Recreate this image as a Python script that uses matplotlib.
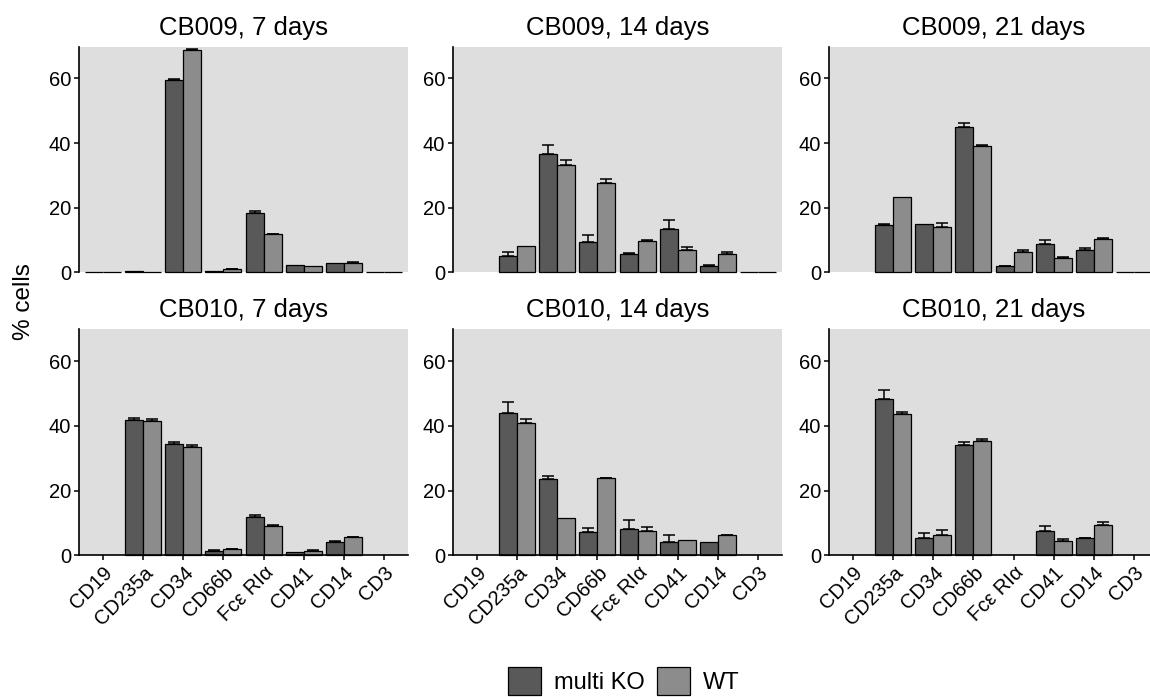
import numpy as np
import matplotlib
matplotlib.use("Agg")
import matplotlib.pyplot as plt
from matplotlib.patches import Patch

plt.rcParams["font.family"] = ["Liberation Sans", "DejaVu Sans"]

# =====================
# DATA (% cells, mean and SE)
# =====================
markers = ["CD19", "CD235a", "CD34", "CD66b", "Fcε RIα", "CD41", "CD14", "CD3"]
groups = ["multi KO", "WT"]
nan = np.nan

titles = ["CB009, 7 days", "CB009, 14 days", "CB009, 21 days",
          "CB010, 7 days", "CB010, 14 days", "CB010, 21 days"]

cb009_d7_ko = [0.15, 0.4, 59.5, 0.4, 18.45, 2.4, 2.9, 0.2]
cb009_d7_ko_se = [0, 0, 0.3, 0, 0.5, 0, 0, 0]
cb009_d7_wt = [0.1, 0.1, 68.8, 0.9, 11.75, 1.85, 2.9, 0.1]
cb009_d7_wt_se = [0, 0, 0.2, 0.2, 0.25, 0, 0.4, 0]

cb009_d14_ko = [nan, 5.05, 36.7, 9.5, 5.7, 13.5, 1.85, 0.1]
cb009_d14_ko_se = [0, 1.15, 2.7, 1.9, 0.4, 2.6, 0.35, 0]
cb009_d14_wt = [nan, 8.25, 33.3, 27.6, 9.8, 6.9, 5.7, 0.05]
cb009_d14_wt_se = [0, 0, 1.5, 1.4, 0.2, 0.9, 0.5, 0]

cb009_d21_ko = [nan, 14.5, 15.05, 45.05, 1.85, 8.65, 6.8, 0.1]
cb009_d21_ko_se = [0, 0.55, 0, 1.15, 0.2, 1.25, 0.8, 0]
cb009_d21_wt = [nan, 23.2, 14.1, 39.2, 6.2, 4.35, 10.4, 0.05]
cb009_d21_wt_se = [0, 0, 1.05, 0.2, 0.6, 0.5, 0.2, 0]

cb010_d7_ko = [nan, 41.85, 34.3, 1.35, 11.75, 0.95, 4.0, nan]
cb010_d7_ko_se = [0, 0.65, 0.55, 0.2, 0.75, 0, 0.55, 0]
cb010_d7_wt = [nan, 41.55, 33.5, 1.85, 9.2, 1.35, 5.55, nan]
cb010_d7_wt_se = [0, 0.65, 0.7, 0.1, 0.2, 0.2, 0.15, 0]

cb010_d14_ko = [nan, 43.8, 23.5, 7.2, 8.05, 4.1, 4.0, nan]
cb010_d14_ko_se = [0, 3.4, 1.0, 1.25, 2.95, 2.3, 0, 0]
cb010_d14_wt = [nan, 40.8, 11.55, 23.9, 7.5, 4.85, 6.2, nan]
cb010_d14_wt_se = [0, 1.4, 0, 0.1, 1.25, 0, 0.2, 0]

cb010_d21_ko = [nan, 48.35, 5.25, 34.0, nan, 7.5, 5.25, nan]
cb010_d21_ko_se = [0, 2.55, 1.65, 0.85, 0, 1.7, 0.1, 0]
cb010_d21_wt = [nan, 43.7, 6.4, 35.45, nan, 4.55, 9.5, nan]
cb010_d21_wt_se = [0, 0.5, 1.4, 0.35, 0, 0.4, 0.9, 0]

panels = [
    (cb009_d7_ko, cb009_d7_ko_se, cb009_d7_wt, cb009_d7_wt_se),
    (cb009_d14_ko, cb009_d14_ko_se, cb009_d14_wt, cb009_d14_wt_se),
    (cb009_d21_ko, cb009_d21_ko_se, cb009_d21_wt, cb009_d21_wt_se),
    (cb010_d7_ko, cb010_d7_ko_se, cb010_d7_wt, cb010_d7_wt_se),
    (cb010_d14_ko, cb010_d14_ko_se, cb010_d14_wt, cb010_d14_wt_se),
    (cb010_d21_ko, cb010_d21_ko_se, cb010_d21_wt, cb010_d21_wt_se),
]

# =====================
# STYLE
# =====================
KO_COLOR = "#595959"
WT_COLOR = "#8c8c8c"
BG = "#dedede"
BAR_W = 0.45

W, H = 1150, 697
fig = plt.figure(figsize=(W / 100, H / 100), dpi=100)

lefts = [79, 453, 829]
panel_w = 329
row_top = [46.7, 329.3]
row_bot = [272.3, 555.3]

x = np.arange(1, len(markers) + 1)


def draw_bars(ax, xs, vals, errs, color):
    for xi, v, e in zip(xs, vals, errs):
        if np.isnan(v):
            continue
        ax.bar(xi, v, width=BAR_W, color=color, edgecolor="black",
               linewidth=0.9, zorder=2, clip_on=False)
        if e > 0:
            ax.errorbar(xi, v, yerr=[[0], [e]], fmt="none", ecolor="black",
                        elinewidth=1.1, capsize=4.3, capthick=1.1, zorder=3)


for i, (ko, ko_se, wt, wt_se) in enumerate(panels):
    row, col = divmod(i, 3)
    ax = fig.add_axes([lefts[col] / W, 1 - row_bot[row] / H,
                       panel_w / W, (row_bot[row] - row_top[row]) / H])
    ax.set_facecolor(BG)

    draw_bars(ax, x - BAR_W / 2, ko, ko_se, KO_COLOR)
    draw_bars(ax, x + BAR_W / 2, wt, wt_se, WT_COLOR)

    ax.set_xlim(0.4, len(markers) + 0.6)
    ax.set_ylim(0, 69.8)
    ax.set_yticks([0, 20, 40, 60])
    ax.set_title(titles[i], fontsize=18.5, pad=8.5)

    for s in ["top", "right"]:
        ax.spines[s].set_visible(False)
    ax.spines["left"].set_linewidth(1.2)
    ax.tick_params(axis="y", labelsize=14.5, length=3.5, width=1.1,
                   colors="black", pad=2)

    if row == 0:
        ax.spines["bottom"].set_visible(False)
        ax.set_xticks([])
    else:
        ax.spines["bottom"].set_linewidth(1.2)
        ax.spines["bottom"].set_zorder(4)
        ax.set_xticks(x)
        ax.set_xticklabels(markers, rotation=45, ha="right", va="top",
                           rotation_mode="anchor")
        ax.tick_params(axis="x", labelsize=14.5, length=3.5, width=1.1,
                       colors="black", pad=2)

fig.text(24 / W, 1 - 302 / H, "% cells", rotation=90, fontsize=17.5,
         ha="center", va="center")

handles = [Patch(facecolor=KO_COLOR, edgecolor="black", linewidth=0.9),
           Patch(facecolor=WT_COLOR, edgecolor="black", linewidth=0.9)]
fig.legend(handles, groups, loc="center", bbox_to_anchor=(624 / W, 1 - 681 / H),
           ncol=2, frameon=False, fontsize=17, handlelength=1.4,
           handleheight=1.4, handletextpad=0.55, columnspacing=0.5,
           borderpad=0)

fig.savefig("out.png", dpi=100)
